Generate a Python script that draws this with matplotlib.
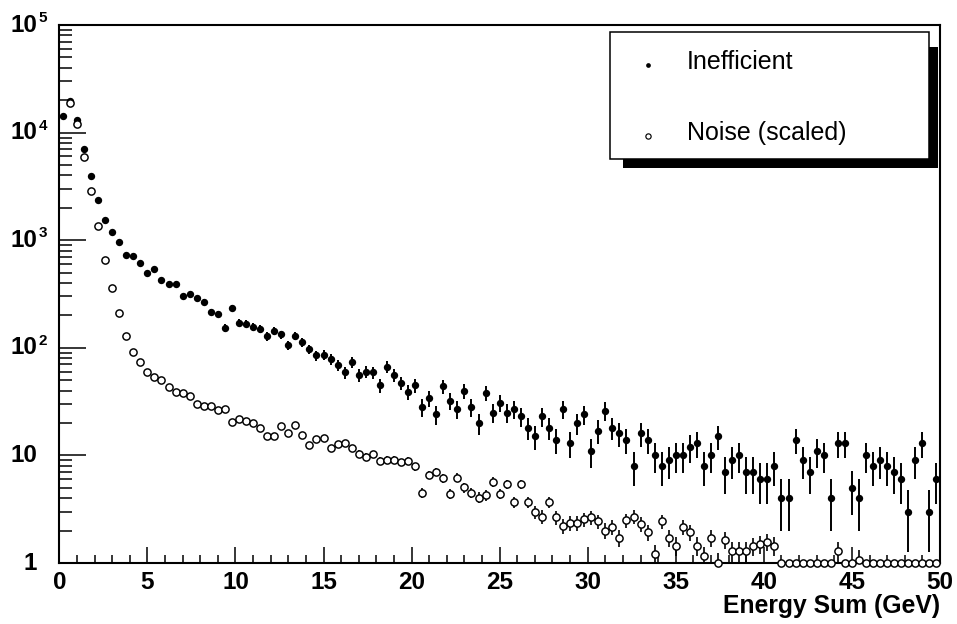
import numpy as np
import matplotlib
matplotlib.use("Agg")
import matplotlib.pyplot as plt
from matplotlib.lines import Line2D
from matplotlib.patches import Rectangle
from matplotlib.ticker import MultipleLocator, LogLocator, NullFormatter
import matplotlib.transforms as mtransforms

# histogram binning: 125 bins of 0.4 GeV from 0 to 50
bin_width = 0.4
n_bins = 125

# "Inefficient" counts per bin
inefficient = np.array([
    14350, 19700, 13200, 7000, 3950, 2350, 1550, 1200, 970, 728,
    713, 614, 499, 536, 424, 391, 394, 301, 314, 288,
    268, 215, 206, 154, 236, 171, 168, 157, 150, 128,
    143, 133, 106, 129, 113, 97, 85, 86, 78, 69,
    59, 74, 56, 60, 59, 45, 67, 56, 47, 39,
    45, 28, 34, 24, 44, 32, 27, 40, 28, 20,
    38, 25, 31, 25, 27, 23, 18, 15, 23, 18,
    14, 27, 13, 20, 24, 11, 17, 26, 18, 16,
    14, 8, 16, 14, 10, 8, 9, 10, 10, 12,
    13, 8, 10, 15, 7, 9, 10, 7, 7, 6,
    6, 8, 4, 4, 14, 9, 7, 11, 10, 4,
    13, 13, 5, 4, 10, 8, 9, 8, 7, 6,
    3, 9, 13, 3, 6,
], dtype=float)

# "Noise (scaled)" per bin (first bin is hidden under the filled marker)
noise = np.array([
    np.nan, 18700, 12100, 5970, 2870, 1365, 655, 362, 209, 128,
    92, 74, 60, 54, 50, 43, 39, 38, 36, 30,
    28.8, 29, 26.4, 26.8, 20.5, 21.6, 21.1, 20, 18.1, 15,
    15.1, 18.8, 16, 19, 15.5, 12.4, 14.3, 14.4, 11.6, 12.8,
    13, 11.7, 10.4, 9.7, 10.2, 8.9, 9.1, 9.1, 8.6, 8.95,
    7.9, 4.5, 6.6, 7.0, 6.1, 4.4, 6.2, 5.05, 4.5, 4.05,
    4.3, 5.7, 4.4, 5.4, 3.67, 5.4, 3.67, 3.0, 2.7, 3.67,
    2.66, 2.2, 2.36, 2.36, 2.55, 2.65, 2.44, 2.0, 2.15, 1.72,
    2.5, 2.7, 2.3, 1.93, 1.21, 2.44, 1.72, 1.45, 2.16, 1.93,
    1.45, 1.15, 1.72, 1.01, 1.65, 1.3, 1.3, 1.3, 1.44, 1.5,
    1.58, 1.45, 0, 0, 0, 0, 0, 0, 0, 0,
    1.29, 0, 0, 1.07, 0, 0, 0, 0, 0, 0,
    0, 0, 0, 0, 0,
], dtype=float)
noise_scale = 0.056   # per-entry weight of the scaled noise histogram

labels = ["Inefficient", "Noise (scaled)"]
x_label = "Energy Sum (GeV)"

plt.rcParams["font.family"] = ["Liberation Sans", "DejaVu Sans"]

W, H = 957, 624
fig = plt.figure(figsize=(W / 100, H / 100), dpi=100)
x0, x1, y0, y1 = 59.3, 940.0, 25.0, 563.0
ax = fig.add_axes([x0 / W, 1 - y1 / H, (x1 - x0) / W, (y1 - y0) / H])

centers = (np.arange(n_bins) + 0.5) * bin_width
y_min = 1.0

ineff_err = np.sqrt(inefficient)
noise_err = np.where(noise > 0, np.sqrt(np.abs(noise) * noise_scale), 0.0)
noise_plot = np.where(noise > 0, noise, np.where(np.isnan(noise), np.nan, y_min))

ax.set_yscale("log")
ax.set_xlim(0, 50)
ax.set_ylim(y_min, 1e5)

# error bars (clipped to frame), then markers on top (not clipped, like ROOT)
ax.errorbar(centers, inefficient, yerr=ineff_err, fmt="none", ecolor="black",
            elinewidth=1.4, capsize=0, zorder=2)
ax.errorbar(centers, noise_plot, yerr=noise_err, fmt="none", ecolor="black",
            elinewidth=1.2, capsize=0, zorder=2)
ax.plot(centers, inefficient, "o", color="black", ms=5.3, mew=0,
        zorder=3, clip_on=False)
ax.plot(centers, noise_plot, "o", mfc="white", mec="black", ms=5.2, mew=1.05,
        zorder=4, clip_on=False)

# axes frame and ticks (ROOT style: ticks inside, left/bottom only)
for s in ax.spines.values():
    s.set_linewidth(1.5)
ax.xaxis.set_major_locator(MultipleLocator(5))
ax.xaxis.set_minor_locator(MultipleLocator(1))
ax.yaxis.set_major_locator(LogLocator(base=10, numticks=10))
ax.yaxis.set_minor_locator(LogLocator(base=10, subs=np.arange(2, 10), numticks=20))
ax.yaxis.set_minor_formatter(NullFormatter())
ax.tick_params(axis="both", which="both", direction="in", top=False, right=False,
               width=1.1, color="black")
ax.tick_params(axis="x", which="major", length=11.5, labelsize=17.5, pad=5.5)
ax.tick_params(axis="x", which="minor", length=5.8)
ax.tick_params(axis="y", which="major", length=19.5, labelleft=False)
ax.tick_params(axis="y", which="minor", length=9.5)
for t in ax.get_xticklabels():
    t.set_fontweight("bold")

# y tick labels: mantissa right-aligned, exponent as superscript (ROOT look)
ytr = mtransforms.blended_transform_factory(ax.transAxes, ax.transData)
sup_tr = mtransforms.offset_copy(ytr, fig=fig, x=0, y=5.0, units="points")
man_x = (37 - x0) / (x1 - x0)
exp_x = (38.5 - x0) / (x1 - x0)
for e in range(0, 6):
    ax.text(man_x, 10.0 ** e, "1" if e == 0 else "10", transform=ytr,
            ha="right", va="center", fontsize=17.5, fontweight="bold")
    if e >= 2:
        ax.text(exp_x, 10.0 ** e, str(e), transform=sup_tr,
                ha="left", va="center", fontsize=11, fontweight="bold")

fig.text(940 / W, 1 - 606 / H, x_label, ha="right", va="center",
         fontsize=17.8, fontweight="bold")

# legend box with ROOT-like shadow
fig.add_artist(Rectangle((623 / W, 1 - 168 / H), (938 - 623) / W, (168 - 47) / H,
                         transform=fig.transFigure, facecolor="black",
                         edgecolor="none", zorder=5))
fig.add_artist(Rectangle((610 / W, 1 - 159 / H), (929 - 610) / W, (159 - 32) / H,
                         transform=fig.transFigure, facecolor="white",
                         edgecolor="black", linewidth=1.1, zorder=6))
fig.add_artist(Line2D([648 / W], [1 - 65 / H], marker="o", color="black", ms=3.4,
                      mew=0, linestyle="none", transform=fig.transFigure, zorder=7))
fig.add_artist(Line2D([648 / W], [1 - 136 / H], marker="o", mfc="white", mec="black",
                      ms=3.8, mew=0.85, linestyle="none", transform=fig.transFigure,
                      zorder=7))
fig.text(687 / W, 1 - 69 / H, labels[0], ha="left", va="baseline", fontsize=18, zorder=8)
fig.text(687 / W, 1 - 140 / H, labels[1], ha="left", va="baseline", fontsize=18, zorder=8)

fig.savefig("out.png", dpi=100, facecolor="white")
